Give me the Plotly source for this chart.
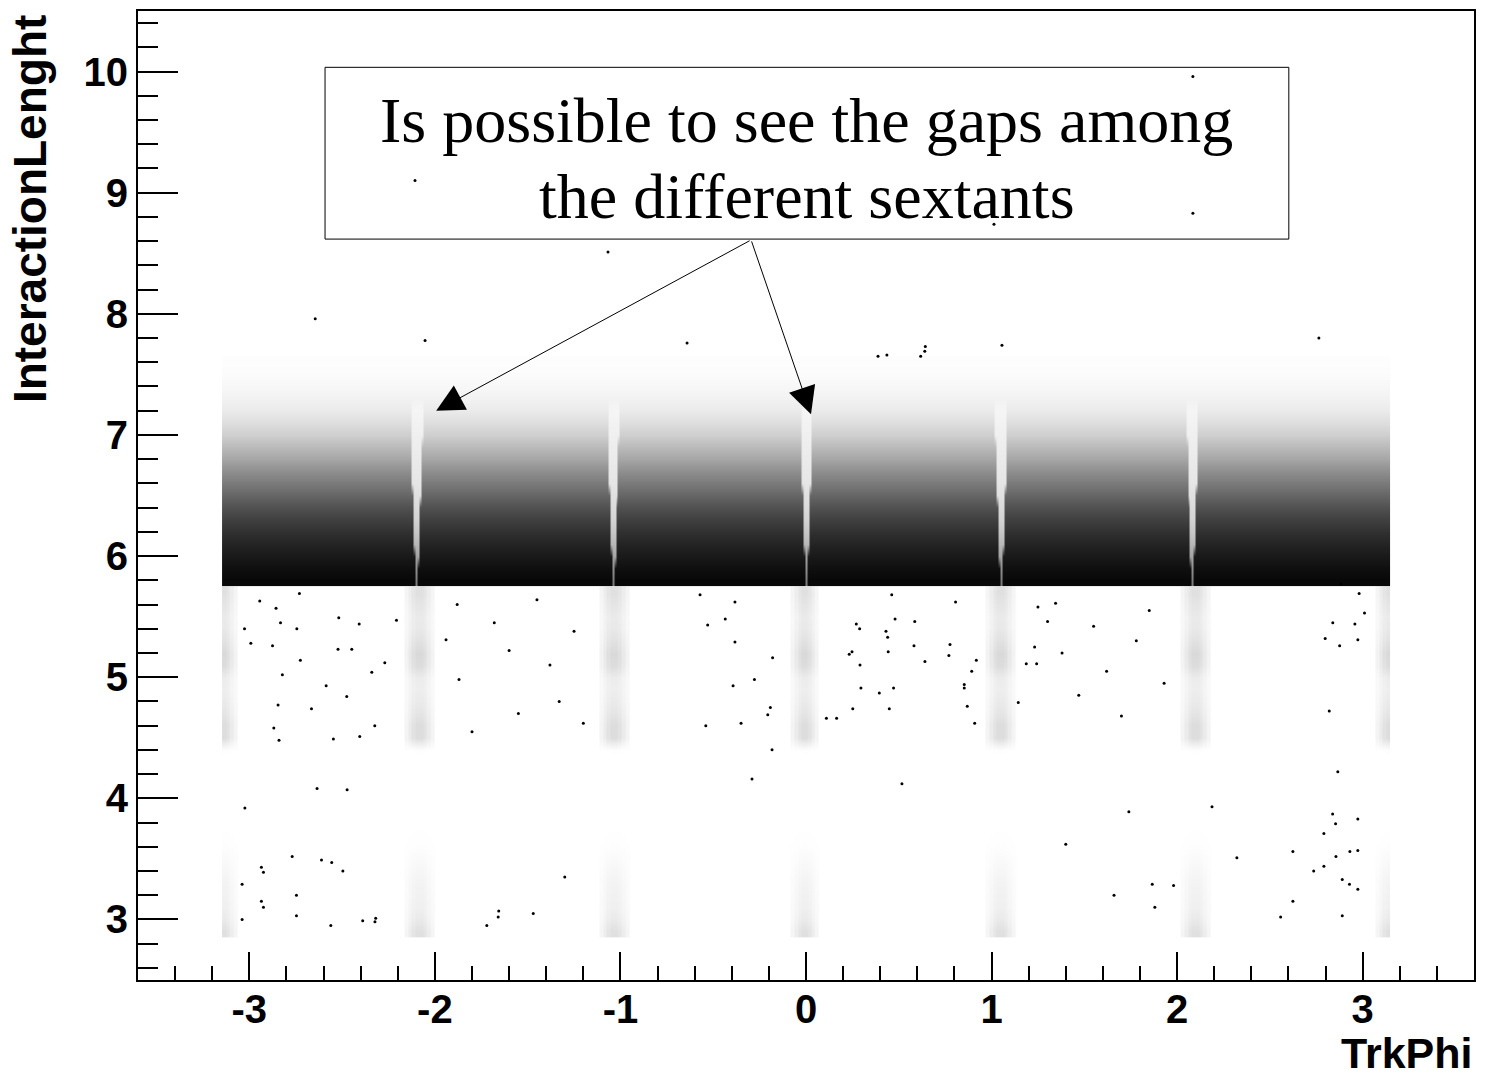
import numpy as np
import plotly.graph_objects as go

# ---------------- data: TrkPhi vs InteractionLenght ----------------
# The dense part of the scatter is kept as a dot-coverage table.
len_bin = 0.1
band_floor = 5.75          # sharp lower edge of the dense band (rows 5.8 ... 7.6)
cluster_floor = 2.85       # lowest edge of the clusters under the gaps (rows 2.9 ... 5.7)

# coverage in the sextant bodies, rows 5.8 ... 7.6
band_cover = [0.97, 0.94, 0.90, 0.86, 0.81, 0.75, 0.68, 0.60, 0.52, 0.44,
              0.35, 0.27, 0.19, 0.13, 0.08, 0.05, 0.03, 0.015, 0.007]
# coverage inside the inter-sextant gaps, rows 5.8 ... 7.6
gap_cover = [0.50, 0.42, 0.35, 0.28, 0.22, 0.17, 0.14, 0.12, 0.10, 0.09,
             0.08, 0.07, 0.06, 0.05, 0.04, 0.05, 0.03, 0.015, 0.007]
# half width (TrkPhi) of each gap, rows 5.8 ... 7.6
gap_halfwidth = [0.006, 0.008, 0.010, 0.012, 0.014, 0.016, 0.018, 0.020, 0.022, 0.024,
                 0.026, 0.028, 0.030, 0.030, 0.030, 0.0, 0.0, 0.0, 0.0]
# coverage of the clusters under the gaps, rows 2.9 ... 5.7
cluster_cover = [0.09, 0.06, 0.045, 0.04, 0.035, 0.025, 0.015, 0.005, 0.002,
                 0.0, 0.0, 0.0, 0.0, 0.0, 0.0, 0.002,
                 0.10, 0.10, 0.075, 0.06, 0.05, 0.055, 0.10, 0.11, 0.085,
                 0.065, 0.06, 0.075, 0.09]
# relative cluster density against distance from the gap centre (steps of 0.02)
cluster_profile = [1.35, 1.15, 0.80, 0.45]

phi_min, phi_max = -3.147, 3.147
gap_phi = [-2.10, -1.04, 0.00, 1.05, 2.08]
cluster_phi = [-3.147, -2.085, -1.04, -0.01, 1.05, 2.10, 3.147]

# isolated dots drawn one by one
out_phi = [2.085, -2.107, -1.067, 1.013, 2.085, -2.645, -0.641, 0.643, 0.640, 0.618,
           1.056, 2.764, -2.053, 0.388, 0.436,
           -0.291, 0.517, -2.635, 1.740, 2.188, -0.183, 2.866, 2.838, 2.854, 2.791,
           2.974, 2.931, -3.024, -2.473,
           -2.944, -2.856, -2.832, -2.730, -2.744, -2.875, -2.725, -2.822, -2.522, -2.448,
           -2.518, -2.408, -2.586, -2.475, -2.665, -2.845, -2.868, -2.840, -2.547, -2.405,
           -2.324, -2.340, -2.270, -2.207, -3.026, -2.992,
           -0.571, -0.383, -0.435, -0.530, -0.383, -0.180, -0.278, -0.393, -0.192, -0.206,
           -0.350, -0.540, 0.462, 0.271, 0.289, 0.480, 0.586, 0.431, 0.440, 0.582,
           0.248, 0.233, 0.443, 0.641, 0.291, 0.296, 0.395, 0.472, 0.252, 0.449,
           0.110, 0.165,
           0.806, 1.345, 1.302, 0.776, 0.770, 0.918, 1.232, 1.187, 1.243, 0.893,
           0.853, 0.853, 0.869, 0.909, 1.144,
           2.883, 2.981, 2.839, 2.958, 2.798, 2.876, 2.974, 3.010, 2.820, 2.890,
           -2.935, -2.924, -3.039,
           -2.935, -2.924, -3.039, -2.769, -2.746, -2.746, -2.611, -2.556, -2.496, -2.561,
           -2.389, -2.319, -2.323, -1.720, -1.656, -1.659,
           1.866, 1.981, 2.322, 2.624, 2.624, 2.558, 2.736, 2.791, 2.856, 2.974,
           2.890, 2.929, 2.974,
           -1.88, -1.94, -1.87, -1.68, -1.60, -1.45, -1.38, -1.33, -1.25, -1.20,
           -1.55, -1.80, -1.47, -1.30,
           1.25, 1.38, 1.47, 1.55, 1.62, 1.70, 1.78, 1.85, 1.93, 1.40, 1.66, 1.88]
out_len = [9.96, 9.10, 8.51, 8.74, 8.83, 7.96, 7.76, 7.73, 7.69, 7.65,
           7.74, 7.80, 7.78, 7.65, 7.66,
           4.16, 4.12, 4.08, 3.89, 3.93, 4.40, 4.22, 3.87, 3.79, 3.71,
           3.83, 3.56, 3.92, 4.07,
           5.63, 5.57, 5.45, 5.69, 5.40, 5.26, 5.14, 5.02, 5.23, 5.23,
           5.49, 5.44, 4.93, 4.84, 4.74, 4.77, 4.58, 4.48, 4.49, 4.51,
           4.60, 5.04, 5.12, 5.47, 5.40, 5.28,
           5.68, 5.62, 5.48, 5.43, 5.29, 5.16, 4.98, 4.93, 4.75, 4.69,
           4.62, 4.60, 5.68, 5.44, 5.40, 5.48, 5.46, 5.38, 5.33, 5.26,
           5.21, 5.19, 5.21, 5.13, 5.10, 4.91, 4.87, 4.91, 4.74, 4.74,
           4.66, 4.66,
           5.62, 5.61, 5.46, 5.27, 5.18, 5.14, 5.25, 5.11, 5.11, 5.05,
           4.94, 4.91, 4.76, 4.62, 4.79,
           5.77, 5.69, 5.45, 5.44, 5.32, 5.26, 5.31, 5.53, 4.72, 3.33,
           3.43, 3.39, 3.29,
           3.15, 3.10, 3.00, 3.52, 3.20, 3.03, 3.49, 3.47, 3.40, 2.95,
           2.99, 3.01, 2.98, 2.95, 3.07, 3.02,
           3.29, 3.28, 3.51, 3.56, 3.15, 3.02, 3.40, 3.44, 3.52, 3.57,
           3.03, 3.29, 3.25,
           5.60, 5.31, 4.98, 5.45, 5.22, 5.64, 5.10, 4.80, 5.38, 4.62,
           4.70, 4.55, 3.05, 3.35,
           5.58, 5.20, 4.85, 5.42, 5.05, 4.68, 5.30, 5.55, 4.95, 3.62, 3.20, 3.10]

x_tick_vals = [-3, -2, -1, 0, 1, 2, 3]
x_tick_text = ["-3", "-2", "-1", "0", "1", "2", "3"]
y_tick_vals = [3, 4, 5, 6, 7, 8, 9, 10]
y_tick_text = ["3", "4", "5", "6", "7", "8", "9", "10"]

# ---------------- build the coverage tables ----------------
n_cols = int(round((phi_max - phi_min) / 0.01))
phi_edges = np.linspace(phi_min, phi_max, n_cols + 1)
phi_mid = 0.5 * (phi_edges[:-1] + phi_edges[1:])

d_gap = np.min(np.abs(phi_mid[None, :] - np.array(gap_phi)[:, None]), axis=0)
z_band = np.array([np.where(d_gap < hw, gc, bc)
                   for bc, gc, hw in zip(band_cover, gap_cover, gap_halfwidth)])
band_edges = band_floor + len_bin * np.arange(len(band_cover) + 1)

# weight of every column from its distance to the nearest cluster centre
d_cl = np.min(np.abs(phi_mid[None, :] - np.array(cluster_phi)[:, None]), axis=0)
step = np.floor(d_cl / 0.02).astype(int)
col_weight = np.where(step < len(cluster_profile),
                      np.array(cluster_profile + [0.0])[np.minimum(step, len(cluster_profile))],
                      0.0)
z_cluster = np.clip(np.outer(cluster_cover, col_weight), 0, 1)
cluster_edges = cluster_floor + len_bin * np.arange(len(cluster_cover) + 1)

grey = [[0, "white"], [1, "black"]]
fig = go.Figure()
fig.add_trace(go.Heatmap(
    x=phi_edges, y=band_edges, z=z_band, zsmooth="best",
    colorscale=grey, zmin=0, zmax=1, showscale=False, hoverinfo="skip"))
fig.add_trace(go.Heatmap(
    x=phi_edges, y=cluster_edges, z=z_cluster, zsmooth="best",
    colorscale=grey, zmin=0, zmax=1, showscale=False, hoverinfo="skip"))
fig.add_trace(go.Scatter(
    x=out_phi, y=out_len, mode="markers",
    marker=dict(size=3, color="black", line=dict(width=0)),
    hoverinfo="skip"))

tick_font = dict(family="Liberation Sans, Arial, sans-serif", size=40,
                 color="black", weight="bold")
axis_common = dict(showline=True, linewidth=2, linecolor="black", mirror=True,
                   showgrid=False, zeroline=False, ticks="inside",
                   tickwidth=2, tickcolor="black", tickfont=tick_font)

fig.update_xaxes(range=[-3.6, 3.6], tickvals=x_tick_vals, ticktext=x_tick_text,
                 ticklen=28, ticklabelstandoff=-7,
                 minor=dict(dtick=0.2, tick0=0, ticks="inside", ticklen=14,
                            tickwidth=2, tickcolor="black"),
                 **axis_common)
fig.update_yaxes(range=[2.5, 10.5], tickvals=y_tick_vals, ticktext=y_tick_text,
                 ticklen=40,
                 minor=dict(dtick=0.2, tick0=0, ticks="inside", ticklen=20,
                            tickwidth=2, tickcolor="black"),
                 **axis_common)

def bold_font(size):
    return dict(family="Liberation Sans, Arial, sans-serif", size=size,
                color="black", weight="bold")

serif = dict(family="Liberation Serif, Times New Roman, serif", size=64, color="black")

# comment box
fig.add_shape(type="rect", xref="x", yref="y", x0=-2.592, x1=2.602, y0=8.617, y1=10.035,
              line=dict(color="black", width=1), fillcolor="rgba(0,0,0,0)")

annotations = [
    dict(text="Is possible to see the gaps among", x=0.005, y=9.60, xref="x", yref="y",
         showarrow=False, font=serif, xanchor="center", yanchor="middle"),
    dict(text="the different sextants", x=0.005, y=8.97, xref="x", yref="y",
         showarrow=False, font=serif, xanchor="center", yanchor="middle"),
    dict(text="", x=-1.993, y=7.20, ax=-0.296, ay=8.61, xref="x", yref="y",
         axref="x", ayref="y", showarrow=True, arrowhead=2, arrowsize=5.5,
         arrowwidth=1, arrowcolor="black"),
    dict(text="", x=0.027, y=7.17, ax=-0.296, ay=8.61, xref="x", yref="y",
         axref="x", ayref="y", showarrow=True, arrowhead=2, arrowsize=5.5,
         arrowwidth=1, arrowcolor="black"),
    dict(text="TrkPhi", x=1.0, y=-0.1025, xref="paper", yref="paper",
         xanchor="right", yanchor="bottom", showarrow=False, font=bold_font(43)),
    dict(text="InteractionLenght", x=-0.0807, y=0.998, xref="paper", yref="paper",
         xanchor="center", yanchor="top", textangle=-90, showarrow=False,
         font=bold_font(46)),
]
fig.update_layout(
    width=1485, height=1080,
    margin=dict(l=138, r=9, t=10, b=100, pad=0),
    paper_bgcolor="white", plot_bgcolor="white",
    showlegend=False, annotations=annotations)

fig.write_html("out.html")
